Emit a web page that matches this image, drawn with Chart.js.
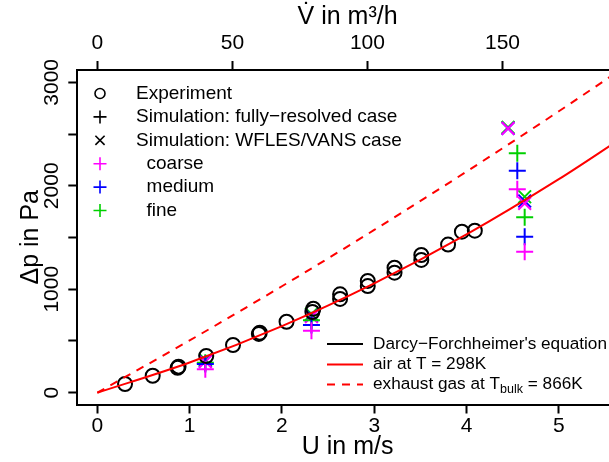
<!DOCTYPE html>
<html>
<head>
<meta charset="utf-8">
<script src="https://cdn.jsdelivr.net/npm/chart.js@4.4.0/dist/chart.umd.min.js"></script>
<style>
html, body { margin: 0; padding: 0; overflow: hidden; background: #fff; width: 609px; height: 462px; }
#wrap { position: relative; width: 640px; height: 462px; }
canvas { display: block; }
</style>
</head>
<body>
<div id="wrap"><canvas id="graph" width="640" height="462"></canvas></div>
<script>
// experiment (circles), U in m/s and dp in Pa
const expU = [0.30, 0.60, 0.87, 0.88, 1.18, 1.47, 1.75, 1.76, 2.05, 2.33, 2.34, 2.63, 2.63, 2.93, 2.93, 3.22, 3.22, 3.51, 3.51, 3.80, 3.95, 4.09];
const expDp = [84, 164, 240, 252, 355, 461, 568, 580, 686, 780, 812, 906, 951, 1031, 1080, 1160, 1208, 1283, 1331, 1432, 1556, 1566];

// simulations, "+" markers
const plusU = [1.17, 2.32, 4.55, 4.63];
const coarsePlus = [226, 599, 1966, 1363];
const mediumPlus = [277, 654, 2146, 1508];
const finePlus = [290, 700, 2314, 1695];

// simulations, "x" markers
const crossU = [1.17, 2.32, 4.45, 4.63];
const coarseCross = [300, 735, 2555, 1830];
const mediumCross = [306, 745, 2555, 1853];
const fineCross = [318, 760, 2565, 1894];

// Darcy-Forchheimer curves
const curveU = [0, 1, 2, 3, 4, 5, 5.64];
const airDp = [0, 292, 644, 1057, 1530, 2064, 2437];
const exhaustDp = [0, 505, 1029, 1573, 2137, 2720, 3104];

const uTicks = [0, 1, 2, 3, 4, 5];
const vTicks = [0, 50, 100, 150];
const yTicks = [0, 500, 1000, 1500, 2000, 2500, 3000];
const yTickLabels = [0, 1000, 2000, 3000];

const FONT = '"Liberation Sans", Arial, Helvetica, sans-serif';
const MAGENTA = '#FF00FF';
const BLUE = '#0000FF';
const GREEN = '#00D000';
const U_TO_V = 34.17; // m3/h per m/s

const xMin = -0.217, xMax = 5.64;

function pts(xs, ys) {
    return xs.map((x, i) => ({ x: x, y: ys[i] }));
}

function markerSet(label, xs, ys, color, style, radius, order) {
    return {
        label: label,
        data: pts(xs, ys),
        showLine: false,
        pointStyle: style,
        pointRadius: radius,
        pointBorderWidth: 2,
        pointBorderColor: color,
        pointBackgroundColor: 'rgba(0,0,0,0)',
        order: order
    };
}

function drawSymbol(ctx, sym, x, y, color) {
    ctx.strokeStyle = color;
    ctx.lineWidth = 1.6;
    ctx.beginPath();
    if (sym === 'circle') {
        ctx.arc(x, y, 5, 0, Math.PI * 2);
    } else if (sym === 'plus') {
        ctx.moveTo(x - 6.5, y); ctx.lineTo(x + 6.5, y);
        ctx.moveTo(x, y - 6.5); ctx.lineTo(x, y + 6.5);
    } else {
        ctx.moveTo(x - 4.6, y - 4.6); ctx.lineTo(x + 4.6, y + 4.6);
        ctx.moveTo(x - 4.6, y + 4.6); ctx.lineTo(x + 4.6, y - 4.6);
    }
    ctx.stroke();
}

// y tick labels (rotated) and the two legends
const extras = {
    id: 'extras',
    afterDraw(chart) {
        const ctx = chart.ctx;
        const yScale = chart.scales.y;
        ctx.save();
        ctx.fillStyle = '#000';
        ctx.font = '21px ' + FONT;
        ctx.textAlign = 'center';
        ctx.textBaseline = 'middle';
        yTickLabels.forEach((v) => {
            ctx.save();
            ctx.translate(52, yScale.getPixelForValue(v));
            ctx.rotate(-Math.PI / 2);
            ctx.fillText(String(v), 0, 0);
            ctx.restore();
        });

        // top-left legend
        const rows = [
            ['circle', '#000', 'Experiment'],
            ['plus', '#000', 'Simulation: fully\u2212resolved case'],
            ['x', '#000', 'Simulation: WFLES/VANS case'],
            ['plus', MAGENTA, '  coarse'],
            ['plus', BLUE, '  medium'],
            ['plus', GREEN, '  fine']
        ];
        ctx.font = '19px ' + FONT;
        ctx.textAlign = 'left';
        rows.forEach((r, i) => {
            const y = 93.5 + i * 23.4;
            drawSymbol(ctx, r[0], 100, y, r[1]);
            ctx.fillStyle = '#000';
            ctx.fillText(r[2], 136, y);
        });

        // bottom-right legend
        const f = '17.2px ' + FONT;
        ctx.font = f;
        const lx0 = 327, lx1 = 363, tx = 373;
        const ly = [344, 364.5, 384.5];
        ctx.lineWidth = 2;
        ctx.strokeStyle = '#000';
        ctx.beginPath(); ctx.moveTo(lx0, ly[0]); ctx.lineTo(lx1, ly[0]); ctx.stroke();
        ctx.strokeStyle = 'red';
        ctx.beginPath(); ctx.moveTo(lx0, ly[1]); ctx.lineTo(lx1, ly[1]); ctx.stroke();
        ctx.setLineDash([8, 7]);
        ctx.beginPath(); ctx.moveTo(lx0, ly[2]); ctx.lineTo(lx1, ly[2]); ctx.stroke();
        ctx.setLineDash([]);
        ctx.fillStyle = '#000';
        ctx.fillText('Darcy\u2212Forchheimer\'s equation', tx, ly[0]);
        ctx.fillText('air at T = 298K', tx, ly[1]);
        const part1 = 'exhaust gas at T';
        ctx.fillText(part1, tx, ly[2]);
        let x = tx + ctx.measureText(part1).width;
        ctx.font = '12.5px ' + FONT;
        ctx.fillText('bulk', x, ly[2] + 5);
        x += ctx.measureText('bulk').width;
        ctx.font = f;
        ctx.fillText(' = 866K', x, ly[2]);
        ctx.restore();
    }
};

const tickGrid = {
    display: true,
    drawOnChartArea: false,
    drawTicks: true,
    tickLength: 9,
    tickWidth: 2,
    tickColor: '#000',
    color: '#000'
};
const border = { display: true, color: '#000', width: 2 };

function fixedTicks(values) {
    return (scale) => { scale.ticks = values.map((v) => ({ value: v })); };
}

const config = {
    type: 'scatter',
    data: {
        datasets: [
            {
                label: 'air',
                data: pts(curveU, airDp),
                showLine: true,
                borderColor: 'red',
                borderWidth: 2,
                pointRadius: 0,
                cubicInterpolationMode: 'monotone',
                order: 0
            },
            {
                label: 'exhaust',
                data: pts(curveU, exhaustDp),
                showLine: true,
                borderColor: 'red',
                borderWidth: 2,
                borderDash: [8, 7],
                pointRadius: 0,
                cubicInterpolationMode: 'monotone',
                order: 0
            },
            markerSet('Experiment', expU, expDp, '#000', 'circle', 7, 1),
            markerSet('fine +', plusU, finePlus, GREEN, 'cross', 8.5, 4),
            markerSet('medium +', plusU, mediumPlus, BLUE, 'cross', 8.5, 3),
            markerSet('coarse +', plusU, coarsePlus, MAGENTA, 'cross', 8.5, 2),
            markerSet('fine x', crossU, fineCross, GREEN, 'crossRot', 9, 7),
            markerSet('medium x', crossU, mediumCross, BLUE, 'crossRot', 9, 6),
            markerSet('coarse x', crossU, coarseCross, MAGENTA, 'crossRot', 9, 5)
        ]
    },
    options: {
        responsive: false,
        animation: false,
        events: [],
        layout: { padding: { left: 0, top: 0, right: 22.1, bottom: 0 } },
        plugins: {
            legend: { display: false },
            tooltip: { enabled: false }
        },
        scales: {
            x: {
                type: 'linear',
                position: 'bottom',
                min: xMin,
                max: xMax,
                afterBuildTicks: fixedTicks(uTicks),
                afterFit: (scale) => { scale.height = 57.5; },
                grid: tickGrid,
                border: border,
                ticks: {
                    padding: 0,
                    color: '#000',
                    maxRotation: 0,
                    font: { family: FONT, size: 21, lineHeight: 1.2 }
                },
                title: {
                    display: true,
                    text: 'U in m/s',
                    color: '#000',
                    padding: { top: 0, bottom: 0 },
                    font: { family: FONT, size: 25, lineHeight: 1.2 }
                }
            },
            x2: {
                type: 'linear',
                position: 'top',
                min: xMin * U_TO_V,
                max: xMax * U_TO_V,
                afterBuildTicks: fixedTicks(vTicks),
                afterFit: (scale) => { scale.height = 70; },
                grid: tickGrid,
                border: border,
                ticks: {
                    padding: 5,
                    color: '#000',
                    maxRotation: 0,
                    font: { family: FONT, size: 21, lineHeight: 1.2 }
                },
                title: {
                    display: true,
                    text: 'V\u0307 in m\u00b3/h',
                    color: '#000',
                    padding: { top: 2, bottom: 0 },
                    font: { family: FONT, size: 25, lineHeight: 1.2 }
                }
            },
            y: {
                type: 'linear',
                min: -114,
                max: 3119,
                afterBuildTicks: fixedTicks(yTicks),
                afterFit: (scale) => { scale.width = 77.3; },
                grid: tickGrid,
                border: border,
                ticks: { display: false },
                title: {
                    display: true,
                    text: '\u0394p in Pa',
                    color: '#000',
                    padding: { top: 16, bottom: 0 },
                    font: { family: FONT, size: 25, lineHeight: 1.2 }
                }
            }
        }
    },
    plugins: [extras]
};

const ctx = document.getElementById('graph').getContext('2d');
new Chart(ctx, config);
</script>
</body>
</html>
